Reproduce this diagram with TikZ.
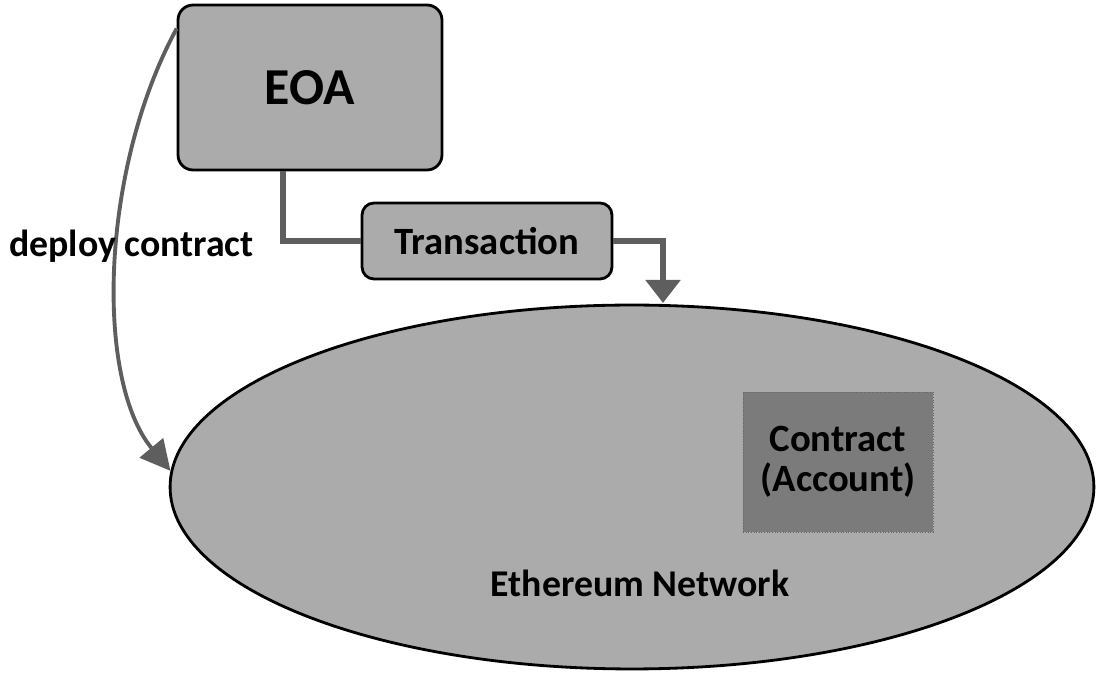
\documentclass[tikz,border=0pt]{standalone}
\usepackage{fontspec}
\setmainfont{Carlito}
\usetikzlibrary{arrows.meta,shapes.geometric}
\definecolor{boxfill}{HTML}{ABABAB}
\definecolor{contractfill}{HTML}{7B7B7B}
\definecolor{connline}{HTML}{5E5E5E}
\begin{document}
\begin{tikzpicture}[x=0.02cm,y=-0.02cm,
  gbox/.style={draw=black,line width=1.6pt,fill=boxfill,rounded corners=0.3cm,inner sep=0pt,font=\bfseries},
  conn/.style={draw=connline,line width=3pt},
  lbl/.style={font=\bfseries\fontsize{21.5}{24}\selectfont,text=black}]
\useasboundingbox (0,0) rectangle (1100,678);
% network ellipse
\node[ellipse,draw=black,line width=1.6pt,fill=boxfill,minimum width=18.48cm,minimum height=7.28cm,inner sep=0pt] (ell) at (632,487) {};
\node[lbl] (net) at (640,583) {Ethereum Network};
% contract
\node[draw=black!60,densely dotted,line width=0.5pt,fill=contractfill,minimum width=3.8cm,minimum height=2.8cm,inner sep=0pt,align=center,lbl,font=\bfseries\fontsize{22}{23}\selectfont] (con) at (838,462) {Contract\\(Account)};
% EOA
\node[gbox,minimum width=5.28cm,minimum height=3.3cm,font=\bfseries\fontsize{29.5}{32}\selectfont] (eoa) at (310,87.5) {EOA};
% Transaction
\node[gbox,rounded corners=0.24cm,minimum width=5cm,minimum height=1.52cm,font=\bfseries\fontsize{22}{24}\selectfont] (tx) at (487,241) {Transaction};
% connectors
\draw[conn] ([xshift=-0.54cm]eoa.south) |- (tx.west);
\coordinate (txin) at (663,303);
\draw[conn,-{Triangle[width=0.68cm,length=0.46cm]}] (tx.east) -| (txin);
% deploy
\coordinate (dstart) at ([yshift=-0.5cm]eoa.north west);
\draw[draw=connline,line width=2.2pt,-{Triangle[width=0.6cm,length=0.6cm]}]
  (dstart) .. controls (100,170) and (95,380) .. (ell.178);
\node[lbl,anchor=west] (dep) at (3,246) {deploy contract};
\end{tikzpicture}
\end{document}
